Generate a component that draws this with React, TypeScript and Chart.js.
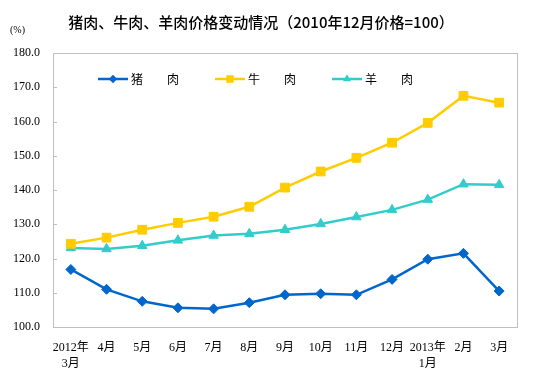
import React, { useEffect, useRef } from "react";
import { Chart, registerables } from "chart.js";

Chart.register(...registerables);

const categories: (string | string[])[] = [
  ["2012年", "3月"], "4月", "5月", "6月", "7月", "8月", "9月", "10月", "11月", "12月", ["2013年", "1月"], "2月", "3月",
];
const pork = [116.8, 111.0, 107.5, 105.6, 105.3, 107.1, 109.4, 109.7, 109.4, 113.9, 119.8, 121.5, 110.5];
const beef = [124.3, 126.1, 128.4, 130.4, 132.2, 135.1, 140.7, 145.4, 149.4, 153.8, 159.6, 167.5, 165.5];
const mutton = [123.1, 122.8, 123.7, 125.3, 126.7, 127.2, 128.4, 130.1, 132.1, 134.2, 137.2, 141.7, 141.5];
const seriesLabels = ["猪　　肉", "牛　　肉", "羊　　肉"];
const yTicks = [100, 110, 120, 130, 140, 150, 160, 170, 180];
const titleText = "猪肉、牛肉、羊肉价格变动情况（2010年12月价格=100）";
const unitText = "(%)";

const colors = ["#0066CC", "#FFCC00", "#33CCCC"];
const styles = ["rectRot", "rect", "triangle"];
const radii = [5, 6.2, 5.5];
const CJK = "'Noto Sans CJK SC', sans-serif";
const SERIF = "'Liberation Serif', 'Noto Sans CJK SC', serif";

function marker(ctx: CanvasRenderingContext2D, style: string, x: number, y: number, r: number) {
  ctx.beginPath();
  if (style === "rectRot") {
    ctx.moveTo(x, y - r);
    ctx.lineTo(x + r, y);
    ctx.lineTo(x, y + r);
    ctx.lineTo(x - r, y);
  } else if (style === "rect") {
    const s = r * Math.SQRT1_2;
    ctx.rect(x - s, y - s, 2 * s, 2 * s);
  } else {
    ctx.moveTo(x, y - r);
    ctx.lineTo(x + r * 0.866, y + r * 0.5);
    ctx.lineTo(x - r * 0.866, y + r * 0.5);
  }
  ctx.closePath();
  ctx.fill();
}

const decor = {
  id: "decor",
  afterDraw(chart: any) {
    const ctx = chart.ctx;
    const a = chart.chartArea;
    ctx.save();
    ctx.strokeStyle = "#BFBFBF";
    ctx.lineWidth = 1;
    ctx.strokeRect(Math.round(a.left) + 0.5, Math.round(a.top) + 0.5, Math.round(a.right - a.left), Math.round(a.bottom - a.top));
    const ys = chart.scales.y;
    ys.ticks.forEach((t: any) => {
      const py = Math.round(ys.getPixelForValue(t.value)) + 0.5;
      ctx.beginPath();
      ctx.moveTo(a.left, py);
      ctx.lineTo(a.left + 4, py);
      ctx.stroke();
    });
    ctx.fillStyle = "#000";
    ctx.font = `500 15px ${CJK}`;
    ctx.textAlign = "center";
    ctx.textBaseline = "middle";
    ctx.fillText(titleText, 261, 22);
    ctx.font = `10px ${SERIF}`;
    ctx.textAlign = "left";
    ctx.fillText(unitText, 10, 30);
    const ly = a.top + 26;
    chart.data.datasets.forEach((ds: any, i: number) => {
      const x0 = a.left + 45 + i * 117;
      ctx.strokeStyle = ds.borderColor;
      ctx.lineWidth = 2.5;
      ctx.beginPath();
      ctx.moveTo(x0, ly);
      ctx.lineTo(x0 + 30, ly);
      ctx.stroke();
      ctx.fillStyle = ds.borderColor;
      marker(ctx, ds.pointStyle, x0 + 15, ly, ds.pointRadius * 0.85);
      ctx.fillStyle = "#000";
      ctx.font = `12px ${CJK}`;
      ctx.textAlign = "left";
      ctx.textBaseline = "middle";
      ctx.fillText(ds.label, x0 + 33, ly);
    });
    ctx.restore();
  },
};

export default function App() {
  const ref = useRef<HTMLCanvasElement>(null);
  useEffect(() => {
    document.body.style.margin = "0";
    const datasets = [pork, beef, mutton].map((d, i) => ({
      label: seriesLabels[i],
      data: d,
      borderColor: colors[i],
      backgroundColor: colors[i],
      pointBackgroundColor: colors[i],
      pointBorderColor: colors[i],
      pointStyle: styles[i],
      pointRadius: radii[i],
      pointBorderWidth: 1,
      borderWidth: 2.5,
      tension: 0,
    }));
    const chart = new Chart(ref.current!, {
      type: "line",
      data: { labels: categories as any, datasets: datasets as any },
      plugins: [decor],
      options: {
        animation: false,
        responsive: false,
        layout: { padding: { top: 53, right: 18, left: 0, bottom: 0 } },
        plugins: { legend: { display: false }, title: { display: false }, tooltip: { enabled: false } },
        scales: {
          x: {
            offset: true,
            grid: { display: false, drawTicks: false },
            border: { display: false },
            ticks: {
              padding: 12,
              maxRotation: 0,
              autoSkip: false,
              color: "#000",
              font: { family: SERIF, size: 12, lineHeight: 1.4 },
            },
            afterFit: (s: any) => { s.height = 54; },
          },
          y: {
            min: 100,
            max: 180,
            afterBuildTicks: (s: any) => { s.ticks = yTicks.map((v) => ({ value: v })); },
            grid: { display: false, drawTicks: false },
            border: { display: false },
            ticks: {
              padding: 13,
              color: "#000",
              font: { family: SERIF, size: 12 },
              callback: (v: any) => Number(v).toFixed(1),
            },
            afterFit: (s: any) => { s.width = 53; },
          },
        },
      },
    });
    return () => chart.destroy();
  }, []);
  return (
    <div style={{ width: 535, height: 381 }}>
      <canvas ref={ref} width={535} height={381} />
    </div>
  );
}
